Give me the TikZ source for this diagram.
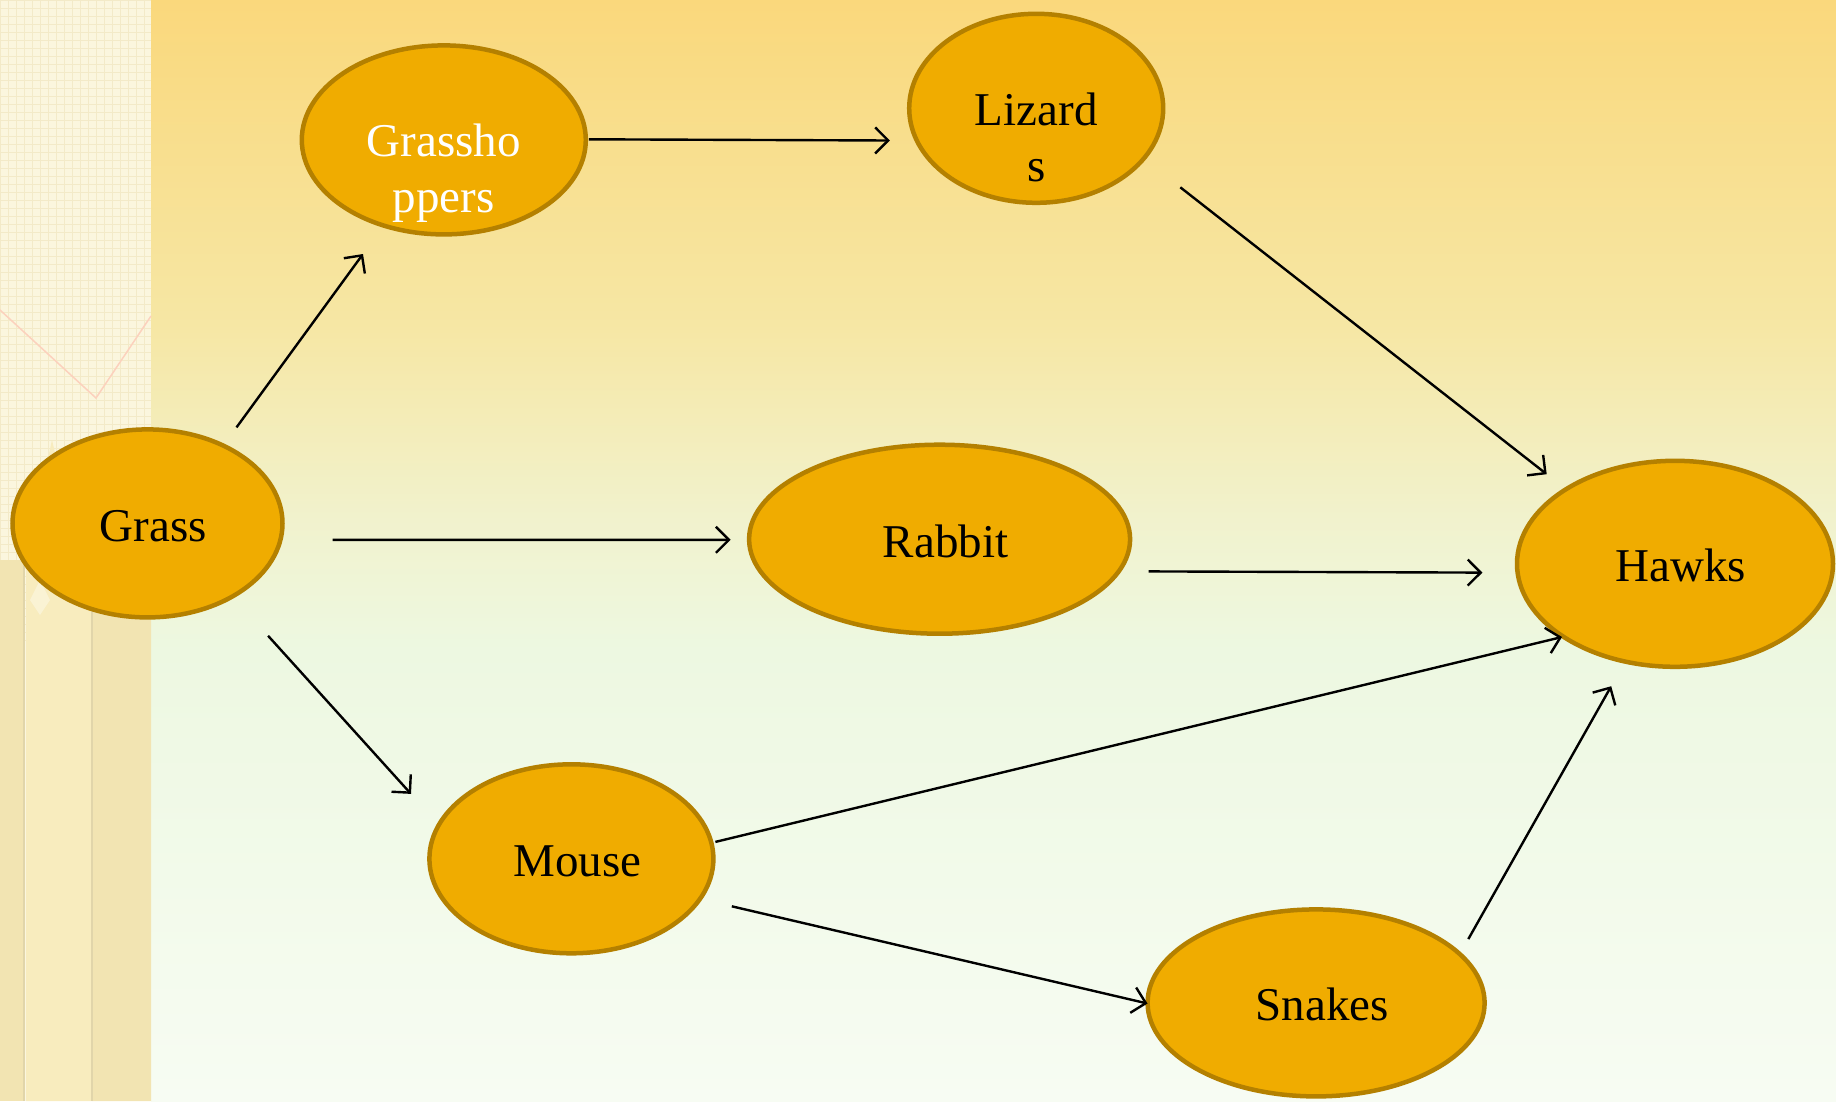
\documentclass[tikz,border=0pt]{standalone}
\usepackage{fontspec}
\setmainfont{Liberation Serif}
\usetikzlibrary{shapes.geometric,arrows.meta,calc}
\definecolor{nodefill}{RGB}{240,172,0}
\definecolor{nodeline}{RGB}{180,128,0}
\definecolor{bgA}{RGB}{250,216,124}
\definecolor{bgB}{RGB}{246,231,165}
\definecolor{bgC}{RGB}{241,242,205}
\definecolor{bgD}{RGB}{237,248,225}
\definecolor{bgE}{RGB}{247,252,243}
\definecolor{stripA}{RGB}{251,246,222}
\definecolor{stripB}{RGB}{242,228,178}
\definecolor{stripC}{RGB}{248,236,190}
\definecolor{gridc}{RGB}{243,234,200}
\pgfdeclareverticalshading{bgshade}{100bp}{color(0bp)=(bgE); color(25bp)=(bgE); color(45.5bp)=(bgD); color(51.4bp)=(bgC); color(60bp)=(bgB); color(75bp)=(bgA); color(100bp)=(bgA)}
\newcommand{\one}[1]{\hspace*{12pt}\raisebox{-18pt}[0pt][0pt]{#1}}
\newcommand{\two}[2]{\raisebox{-17pt}[0pt][0pt]{\begin{tabular}[t]{@{}c@{}}#1\\#2\end{tabular}}}
\tikzset{
  food/.style={ellipse, draw=nodeline, line width=4.5pt, fill=nodefill, inner sep=0pt,
    font=\fontsize{47}{56}\selectfont},
  eat/.style={draw=black, line width=2.4pt, -{Straight Barb[length=13pt,width=26pt,line width=2.4pt]}}
}
\begin{document}
\begin{tikzpicture}[x=1pt,y=-1pt]
\useasboundingbox (0,0) rectangle (1836,1101);
% background
\shade[shading=bgshade] (151,0) rectangle (1836,1101);
% left strip
\fill[stripA] (0,0) rectangle (151,1101);
\foreach \x in {0,8,...,150} \draw[gridc, line width=0.6pt] (\x,0) -- (\x,640);
\foreach \y in {0,8,...,640} \draw[gridc, line width=0.6pt] (0,\y) -- (151,\y);
\draw[red!15!stripA, line width=1.5pt] (0,310) -- (96,398) -- (151,316);
% pencils
\fill[stripB] (0,560) -- (24,560) -- (24,1101) -- (0,1101) -- cycle;
\fill[stripC] (26,560) -- (52,440) -- (80,560) -- (92,600) -- (92,1101) -- (26,1101) -- cycle;
\fill[stripB] (92,600) -- (120,540) -- (151,570) -- (151,1101) -- (92,1101) -- cycle;
\fill[stripA!70!stripC] (30,600) -- (40,580) -- (50,600) -- (40,615) -- cycle;
\draw[stripB!85!gray, line width=1.5pt] (24,560) -- (24,1101);
\draw[stripB!85!gray, line width=1.5pt] (92,600) -- (92,1101);
% nodes
\node[food, minimum width=270pt, minimum height=188pt] (grass) at (147.5,523.4) {\one{Grass}};
\node[food, minimum width=284pt, minimum height=189pt, text=white] (hopper) at (443.8,139.9) {\two{Grassho}{ppers}};
\node[food, minimum width=254pt, minimum height=189pt] (lizard) at (1036.2,108.3) {\two{Lizard}{s}};
\node[food, minimum width=381pt, minimum height=189pt] (rabbit) at (939.6,539.2) {\one{Rabbit}};
\node[food, minimum width=316pt, minimum height=206pt] (hawk) at (1675,563.8) {\one{Hawks}};
\node[food, minimum width=284pt, minimum height=189pt] (mouse) at (571.4,858.8) {\one{Mouse}};
\node[food, minimum width=337pt, minimum height=187pt] (snake) at (1316.1,1002.9) {\one{Snakes}};
% connectors
\draw[eat] ($(grass)+(89,-96)$) -- ($(hopper)+(-80.8,114.1)$);
\draw[eat] ($(hopper)+(145,-0.6)$) -- ($(lizard)+(-146.3,32.2)$);
\draw[eat] ($(lizard)+(144.1,79)$) -- ($(hawk)+(-128.3,-89.6)$);
\draw[eat] ($(grass)+(185,16.4)$) -- ($(rabbit)+(-209,0.6)$);
\draw[eat] ($(rabbit)+(209.1,32.2)$) -- ($(hawk)+(-192.6,8.8)$);
\draw[eat] ($(grass)+(120.6,112.4)$) -- ($(mouse)+(-160.4,-64.9)$);
\draw[eat] ($(mouse)+(144,-16.9)$) -- ($(hawk)+(-113,73.2)$);
\draw[eat] ($(mouse)+(160.4,47.5)$) -- ($(snake)+(-168.6,0.6)$);
\draw[eat] ($(snake)+(152.2,-63.8)$) -- ($(hawk)+(-63.8,122.4)$);
\end{tikzpicture}
\end{document}
